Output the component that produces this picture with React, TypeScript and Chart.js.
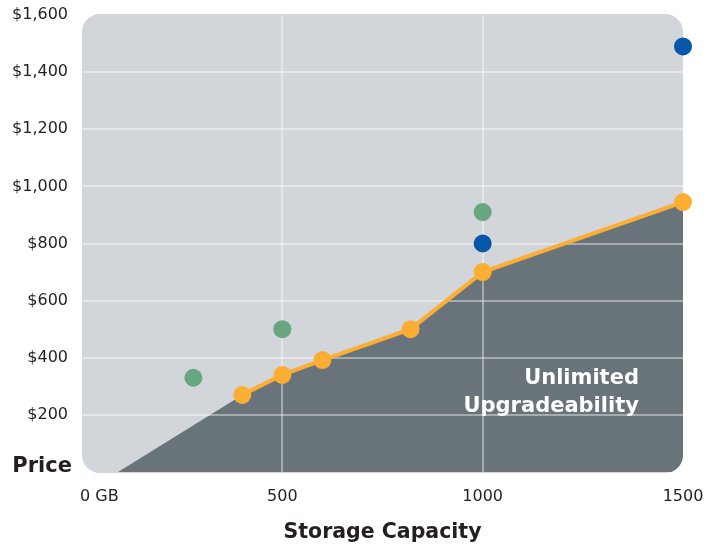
import React, { useEffect, useRef } from 'react';
import { Chart, registerables } from 'chart.js';

// ---- data ----
const xTicks = [0, 500, 1000, 1500];
const xTickLabels = ['0 GB', '500', '1000', '1500'];
const yTicks = [0, 200, 400, 600, 800, 1000, 1200, 1400, 1600];

const orangeX = [400, 500, 600, 820, 1000, 1500];
const orangeY = [270, 340, 392, 500, 700, 945];

const greenX = [278, 500, 1000];
const greenY = [330, 500, 910];

const blueX = [1000, 1500];
const blueY = [800, 1490];

const areaStartX = 90;
const areaStartY = 0;

const yTitle = 'Price';
const xTitle = 'Storage Capacity';
const noteLines = ['Unlimited', 'Upgradeability'];
const noteAnchorX = 1390;
const noteAnchorY = [308, 210];

// ---- styles ----
const BG = '#d2d5d9';
const DARK = '#69737a';
const ORANGE = '#fbae33';
const GREEN = '#68a67f';
const BLUE = '#0757a8';
const GRID = 'rgba(255,255,255,0.4)';
const TEXT = '#231f20';
const FONT = '"DejaVu Sans", sans-serif';

const roundBg = {
  id: 'roundBg',
  beforeDraw(chart: any) {
    const { ctx, chartArea: a } = chart;
    ctx.save();
    ctx.beginPath();
    ctx.roundRect(a.left, a.top - 1, a.right - a.left, a.bottom - a.top + 2, 18);
    ctx.fillStyle = BG;
    ctx.fill();
    ctx.clip();
  },
};

Chart.register(roundBg);
Chart.register(...registerables);

const overlay = {
  id: 'overlay',
  beforeDraw(chart: any) {
    chart.ctx.restore();
  },
  afterDraw(chart: any) {
    const { ctx, chartArea: a, scales } = chart;
    const xs = scales.x;
    const ys = scales.y;
    ctx.save();
    ctx.font = `bold 21px ${FONT}`;
    ctx.fillStyle = TEXT;
    ctx.textAlign = 'right';
    ctx.textBaseline = 'alphabetic';
    ctx.fillText(yTitle, a.left - 10, ys.getPixelForValue(0));
    const items = xs.getLabelItems();
    const refItem = items.find((it: any) => it.label === xTickLabels[1]);
    if (refItem) {
      ctx.font = `16px ${FONT}`;
      ctx.textAlign = 'left';
      ctx.textBaseline = refItem.options.textBaseline;
      ctx.fillText(
        xTickLabels[0],
        xs.getPixelForValue(xTicks[0]) - 2,
        refItem.options.translation[1] + refItem.textOffset
      );
    }
    ctx.font = `bold 21px ${FONT}`;
    ctx.fillStyle = '#ffffff';
    ctx.textAlign = 'right';
    ctx.textBaseline = 'alphabetic';
    noteLines.forEach((t, i) => {
      ctx.fillText(t, xs.getPixelForValue(noteAnchorX), ys.getPixelForValue(noteAnchorY[i]));
    });
    ctx.restore();
  },
};

const zeroPad = (s: any) => {
  s.paddingTop = 0;
  s.paddingBottom = 0;
  s.paddingLeft = 0;
  s.paddingRight = 0;
};

export default function App() {
  const ref = useRef<HTMLCanvasElement | null>(null);
  useEffect(() => {
    if (!ref.current) return;
    const orangePts = orangeX.map((x, i) => ({ x, y: orangeY[i] }));
    const chart = new Chart(ref.current, {
      type: 'line',
      data: {
        datasets: [
          {
            label: 'green',
            data: greenX.map((x, i) => ({ x, y: greenY[i] })),
            showLine: false,
            pointRadius: 9,
            pointBackgroundColor: GREEN,
            pointBorderWidth: 0,
            borderColor: GREEN,
            clip: false,
          } as any,
          {
            label: 'blue',
            data: blueX.map((x, i) => ({ x, y: blueY[i] })),
            showLine: false,
            pointRadius: 9,
            pointBackgroundColor: BLUE,
            pointBorderWidth: 0,
            borderColor: BLUE,
            clip: false,
          },
          {
            label: 'orange',
            data: orangePts,
            borderColor: ORANGE,
            borderWidth: 4,
            pointRadius: 9,
            pointBackgroundColor: ORANGE,
            pointBorderWidth: 0,
            tension: 0,
            clip: false,
          },
          {
            label: 'area',
            data: [{ x: areaStartX, y: areaStartY }, ...orangePts],
            borderColor: 'transparent',
            borderWidth: 0,
            pointRadius: 0,
            backgroundColor: DARK,
            fill: 'origin',
            tension: 0,
          },
        ],
      },
      options: {
        animation: false,
        responsive: false,
        events: [],
        layout: { autoPadding: false, padding: { top: 15, right: 27, left: 0, bottom: 0 } },
        plugins: {
          legend: { display: false },
          tooltip: { enabled: false },
          filler: { drawTime: 'beforeDraw' },
          colors: { enabled: false },
        } as any,
        scales: {
          x: {
            type: 'linear',
            min: 0,
            max: 1500,
            afterBuildTicks: (s: any) => {
              s.ticks = xTicks.map((v) => ({ value: v }));
            },
            afterFit: (s: any) => {
              s.height = 78;
              zeroPad(s);
            },
            border: { display: false },
            grid: {
              drawTicks: false,
              lineWidth: 2,
              color: (c: any) =>
                c.tick && c.tick.value > xTicks[0] && c.tick.value < xTicks[xTicks.length - 1]
                  ? GRID
                  : 'transparent',
            },
            ticks: {
              padding: 15,
              color: TEXT,
              font: { family: FONT, size: 16 },
              maxRotation: 0,
              autoSkip: false,
              callback: (v: any) => {
                const i = xTicks.indexOf(Number(v));
                return i <= 0 ? '' : xTickLabels[i];
              },
            },
            title: {
              display: true,
              text: xTitle,
              color: TEXT,
              font: { family: FONT, size: 20.5, weight: 'bold' },
              padding: { top: 0, bottom: 5 },
            },
          },
          y: {
            type: 'linear',
            min: 0,
            max: 1600,
            afterBuildTicks: (s: any) => {
              s.ticks = yTicks.map((v) => ({ value: v }));
            },
            afterFit: (s: any) => {
              s.width = 82;
              zeroPad(s);
            },
            border: { display: false },
            grid: {
              drawTicks: false,
              lineWidth: 2,
              color: (c: any) =>
                c.tick && c.tick.value > yTicks[0] && c.tick.value < yTicks[yTicks.length - 1]
                  ? GRID
                  : 'transparent',
            },
            ticks: {
              padding: 14,
              color: TEXT,
              font: { family: FONT, size: 16 },
              autoSkip: false,
              callback: (v: any) =>
                Number(v) === 0 ? '' : '$' + Number(v).toLocaleString('en-US'),
            },
          },
        },
      },
      plugins: [overlay],
    });
    return () => chart.destroy();
  }, []);
  return (
    <div style={{ position: 'absolute', left: 0, top: 0, width: 710, height: 550 }}>
      <canvas ref={ref} width={710} height={550} />
    </div>
  );
}
